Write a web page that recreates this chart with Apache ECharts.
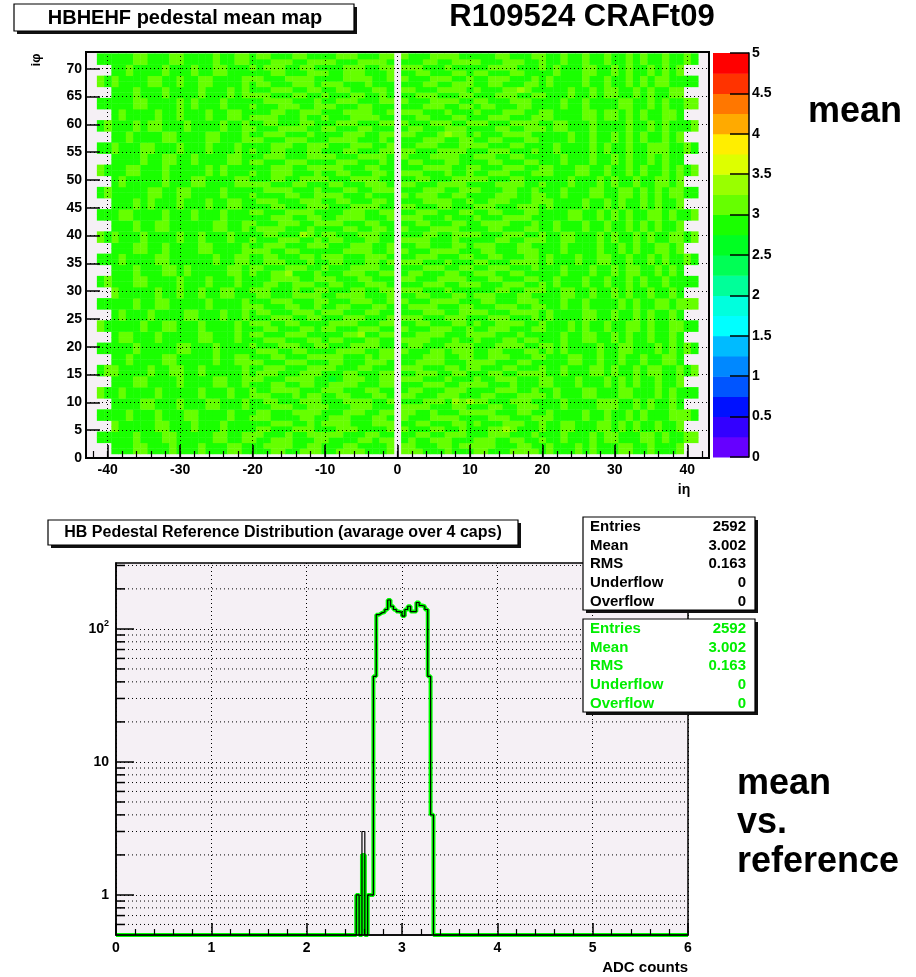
<!DOCTYPE html>
<html><head><meta charset="utf-8">
<script src="https://cdn.jsdelivr.net/npm/echarts@6/dist/echarts.min.js"></script>
<style>html,body{margin:0;padding:0;background:#fff}#c{width:916px;height:977px}</style>
</head><body><div id="c"></div>
<script>
// ================= DATA =================
const mapTitle = 'HBHEHF pedestal mean map';
const runTitle = 'R109524 CRAFt09';
const histTitle = 'HB Pedestal Reference Distribution (avarage over 4 caps)';
const mapXTicks = [-40, -30, -20, -10, 0, 10, 20, 30, 40];
const mapXMinorTicks = [-42,-40,-38,-36,-34,-32,-30,-28,-26,-24,-22,-20,-18,-16,-14,-12,-10,-8,-6,-4,-2,0,2,4,6,8,10,12,14,16,18,20,22,24,26,28,30,32,34,36,38,40,42];
const mapYTicks = [0,5,10,15,20,25,30,35,40,45,50,55,60,65,70];
const colorLevels = [0,0.25,0.5,0.75,1,1.25,1.5,1.75,2,2.25,2.5,2.75,3,3.25,3.5,3.75,4,4.25,4.5,4.75,5];
const paletteColors = ['#6600ff','#3300ff','#0011ff','#0055ff','#0088ff','#00bbff','#00ffff','#00ffdd','#00ff99','#00ff55',
                       '#00ff22','#1aff00','#66ff00','#99ff00','#ddff00','#ffee00','#ffaa00','#ff7700','#ff3300','#ff0000'];
const cellCodeValues = { d: 2.68, g: 2.88, l: 3.1, y: 3.32 };
const fineEtas = [-20,-19,-18,-17,-16,-15,-14,-13,-12,-11,-10,-9,-8,-7,-6,-5,-4,-3,-2,-1,1,2,3,4,5,6,7,8,9,10,11,12,13,14,15,16,17,18,19,20];
const coarseEtas = [-39,-38,-37,-36,-35,-34,-33,-32,-31,-30,-29,-28,-27,-26,-25,-24,-23,-22,-21,21,22,23,24,25,26,27,28,29,30,31,32,33,34,35,36,37,38,39];
const hfEtas = [-41, -40, 40, 41];
// fine rows: iphi 1..72 (bottom to top), ieta -20..-1, 1..20
const fineRows = [
"gggllgglll ggllllgggl lllggglggg llgggllllg",
"ggllllggll gggllggggl llgggllgll lllgggllgg",
"lgglllgggl lggggllgll glgglllggg lllggllggl",
"llggglggll lllgggllgg ggllgglllg gglllggglg",
"gllggglllg gglllggggl lgggllgglg ggllylgggl",
"ggglllgglg llllggglll ggllgggllg lggglllggl",
"lllggggllg glllgggllg lgggllllgg gglllgggll",
"gllgggllll ggglllggll llgglgggll lllgggllgg",
"ggglllggll lggglllggg llllgggllg ggllgglllg",
"ggllggglll gggllllggl ggglllgyly llggglllgg",
"lllggglgll ggllgggllg llggglllgg gllgggllll",
"lggllllggg lllgggllgg gllggglllg ggglllgglg",
"gggllggllg gllllgggll ggglllggll llggglgggl",
"llgggllllg gdglllggll lllggglggg lgglllgggl",
"glllggglll gggllgggll gglllggllg ggllggllll",
"gglllgggll llgggllggg lllgggllgl lgggllgggl",
"llggglllgg gllggglllg ggllllgggl lllgggllgg",
"gggllgggll lllggglgll ggglllggll gglllgggll",
"glllggllgg ggllllggll lgggllglll ggllgggllg",
"lggglllggl lgggllllgg gllgggllll gggllllggl",
"gglllgggll gllgggllgg llllggglgg lgggllgllg",
"llggglllgg gggllyggll ggllllgggl lllggglggg",
"ggllgggllg llggglllgg lggglllggl gglllgggll",
"lllggllggg gllllgggll ggllgggllg lggllllggl",
"ggglllggll ggglllgggl lllggglllg gglllggglg",
"gllggglllg lllgggllgg ggglllggll llgggllllg",
"llgggllggl ggllgggllg gllllgggll ggglllggll",
"ggglllgggl lggglllggl lgggllllgg gllggglllg",
"gllgggllll ggllllgggl ggllgggllg lllgggllgg",
"lllggglggl lgggllggll lllggglggg gggllgglll",
"ggllgglllg gllggglllg ggglllggll lggglllggl",
"gggllllggl llgggllggg llgggllllg ggllgggllg",
"lggllygggl ggglllggll gllgggllgg lllggllggg",
"llggglllgg lgggllllgg ggglllggll gglllggglg",
"gglllggglg gllgggllgl lllggglggg llgggllllg",
"ggllgggllg lllggglllg gglllgggll ggllgggllg",
"lllggllggg gggllllggl lgggllllgg gllggglllg",
"gglllgggll lggglllggl ggllgggllg lllgggllgg",
"lggglllggl gllgggllgg llllggglgg gggllgglll",
"ggllgggylg llggglllgg gggllgglll lggglllggl",
"gllllggglg gggllggllg lgggllllgg ggllgggllg",
"lggglllggl lllgggllgg ggllgggllg gllllggglg",
"ggglllggll ggllllgggl lllggglggg lgggllllgg",
"llgggllllg ggglllggll gglllgggll ggllgggllg",
"gggllgggll lgggllllgg llgggllggg lllggglllg",
"glllggglll ggllgggllg gggllllggl gglllgggll",
"lggggllggl lllggglggg lglllggllg ggglllggll",
"ggllllgggl gggllgglll ggglllggll lgggllgglg",
"lllgggllgg gllggglllg llgggllllg gggllllggl",
"gggllgglll lgggllllgg ggllggglll llgggllggg",
"lgglllgggl ggllgggllg lllggglggl gglllgggll",
"ggglllggll lllgggllgg gggllllggl lggglllggl",
"llggglllgg gglllggglg gllgggllgg ggllgggllg",
"gglllgggll llgggllllg lgggllllgg lllggllggg",
"lggllgggll gggllgggll llgggllllg gglllggglg",
"ggglllggll lggglllggl gglllgggll llgggllggg",
"llggglllgg gllllggglg ggglllggll ggllgggllg",
"gglllggglg ggglllggll llggglyllg lgggllllgg",
"lgggllllgg llgggllggg gllggglllg gggllgglll",
"ggllgggllg gglllgggll lggglllggl llgggllllg",
"llllggglgg lgggllllgg ggllgggllg gglllgggll",
"gggllgglll gggllllggl lllggglggg lggglllggl",
"lggglllggl llgggllggg ggglllggll gllgggllgg",
"ggllllgggl gglllgggll lgggllllgg llggglllgg",
"lllgggllgg lgggllgglg gglllgggll ggglllggll",
"ggglllggll ggllgggllg llgggllllg lgggllylgg",
"gllggglllg lllggglggg gggllgglll ggllgggllg",
"llgggllllg gggllllggl lggglllggl gglllggglg",
"gggllgggll lgglllgggl ggllgggllg llgggllggg",
"lglllggllg ggglllggll lllggglggg ggllllgggl",
"ggglllggll llgggllllg gggllgglll lggglllggl",
"gllgggllgg gglllgggll lgggllllgg gggllgggll"
];
// coarse rows: iphi pairs (1-2, 3-4, ...), ieta -39..-21, 21..39
const coarseRows = [
"gggllggglg gglgggllg lggglglgg gllgglgggl",
"ggglgggllg ggggllggl gglggglgl lgggllglgg",
"lgggggllgg glggglggg ggllgggll glglgglggl",
"gglggglggg llgggglgg lgggglggl gglglgggll",
"ggggllgggl gggllgggl gglggggll lgglglgglg",
"glgggglggg gglggglgg glgggllgg gllggglglg",
"gggllggggl ggggllggl lggglgggl glglgglggl",
"lgggglggll gglgggggl gglgggllg lgglgllggl",
"gglggggllg gggglggll gggllgglg glgglggllg",
"ggglgggggl lggglgggg lglgggglg gllggglglg",
"gllggglggg ggllggglg gglggllgg lglgglgglg",
"gggglggllg gglgggglg ggglglggl ggllglggll",
"glggglgggg llggglggl lggggllgg lgglglgglg",
"ggglggllgg ggglggggl gglgglggg glglggllgl",
"lggggglggl gglggllgg ggllgglgg lglgglgglg",
"gggllggggl ggglggglg glggglggl gglglgglgg",
"ggglgggllg lgggggllg gglggglgg lgllgglglg",
"glggggllgg gggglggll lggglggll gglgglglgg",
"gggllgglgg ggllggggl gglgggglg glglggllgl",
"lggglggggl gglggglgg ggllggglg lgglglggll",
"ggglggllgg ggggllggl glggglggl gglglglggl",
"gllgggglgg glggglggg gggllgglg lglggllglg",
"ggglglgggl ggglggllg lgggglggl glgglglggl",
"gggggllggl lgggglggg gglgggllg gllglglgll",
"glggggglgg gllggggll ggglggglg lgglggllgl",
"ggllggglgg ggglglggg lgggllggl gglglgglgl",
"gggglggllg glggggllg gglggglgg lglgglglgg",
"lgggllgggl ggglggglg glgggglgl gglgglllgg",
"gglggggllg gggllgggl ggglgglgg lglglgglgl",
"ggglgllggg lgggglggl gllggglgg gglgglglgg",
"glgggglggl ggglggllg lggggllgl lglglggllg",
"gggllggggl glggglggg gglgglggg gllgglglgg",
"ggglggglgg gglggglgl ggglgglgl lgglglggll",
"lggggllggl ggllggggl lgggglggl gglglgllgg",
"gglgggglgg glggllggg glgggllgg lglgglglgl",
"gggllgggll gggglggll gglgglggl gglglgglgg"
];
// HF rows: iphi 3-4, 7-8, ..., 71-72 ; ieta -41,-40,40,41
const hfRows = ["ggll","gglg","lggg","glgl","gglg","lggg","ggll","glgg","gglg","lggl","gggl","glgg","lggl","gglg","glgl","ggll","lggg","gglg"];

// histogram (bin left edges, counts)
const histEdges = [0, 2.52, 2.55, 2.58, 2.61, 2.64, 2.67, 2.70, 2.73, 2.76, 2.79, 2.82, 2.85, 2.88, 2.91, 2.94, 2.97, 3.00, 3.03, 3.06, 3.09, 3.12, 3.15, 3.18, 3.21, 3.24, 3.27, 3.30, 3.33, 6];
const meanCounts = [0, 1, 0, 2, 0, 1, 1, 44, 128, 132, 134, 140, 165, 148, 140, 135, 133, 125, 140, 148, 135, 135, 158, 150, 148, 140, 44, 4, 0, 0];
const refCounts  = [0, 1, 0, 3, 0, 1, 1, 44, 128, 132, 134, 140, 165, 148, 140, 135, 133, 125, 140, 148, 135, 135, 158, 150, 148, 140, 44, 4, 0, 0];
const histYTicks = [1, 10, 100];
const logMinorTicks = [0.6, 0.7, 0.8, 0.9, 2, 3, 4, 5, 6, 7, 8, 9, 20, 30, 40, 50, 60, 70, 80, 90, 200, 300];
const statLabels = ['Entries', 'Mean', 'RMS', 'Underflow', 'Overflow'];
const refStats = ['2592', '3.002', '0.163', '0', '0'];
const meanStats = ['2592', '3.002', '0.163', '0', '0'];

// ================= BUILD =================
const FONT = "'Liberation Sans', Arial, Helvetica, sans-serif";
const HIST_YMIN = 0.5, HIST_YMAX = 313;
const heatData = [];
function pushRow(str, etas, iphis) {
  const s = str.replace(/\s/g, '');
  for (let j = 0; j < etas.length && j < s.length; j++) {
    const v = cellCodeValues[s[j]];
    if (v === undefined) continue;
    iphis.forEach(p => heatData.push([etas[j], p, v]));
  }
}
fineRows.forEach((r, i) => pushRow(r, fineEtas, [i + 1]));
coarseRows.forEach((r, i) => pushRow(r, coarseEtas, [2 * i + 1, 2 * i + 2]));
hfRows.forEach((r, i) => pushRow(r, hfEtas, [4 * i + 3, 4 * i + 4]));

const bandData = colorLevels.slice(0, -1).map((lo, i) => [lo, colorLevels[i + 1], (lo + colorLevels[i + 1]) / 2]);
const pieces = colorLevels.slice(0, -1).map((lo, i) => ({ gte: lo, lt: colorLevels[i + 1], color: paletteColors[i] }));

const lbl = { fontFamily: FONT, fontWeight: 'bold', fontSize: 14, color: '#000' };
const dotted = { type: [1, 3], color: '#000', width: 1 };

function boxWithShadow(x, y, w, h) {
  return [
    { type: 'rect', shape: { x: x + 3, y: y + 3, width: w, height: h }, style: { fill: '#111' }, z: 50 },
    { type: 'rect', shape: { x: x, y: y, width: w, height: h }, style: { fill: '#fff', stroke: '#000', lineWidth: 1.2 }, z: 51 }
  ];
}
function statsBox(y0, values, color) {
  const els = boxWithShadow(583, y0, 172, 93);
  statLabels.forEach((t, i) => {
    const yy = y0 + 10 + i * 18.6;
    els.push({ type: 'text', x: 590, y: yy, z: 52, style: { text: t, font: "bold 15px " + FONT, fill: color, align: 'left', verticalAlign: 'middle' } });
    els.push({ type: 'text', x: 746, y: yy, z: 52, style: { text: values[i], font: "bold 15px " + FONT, fill: color, align: 'right', verticalAlign: 'middle' } });
  });
  return els;
}

const graphics = [].concat(
  boxWithShadow(14, 4, 340, 27),
  [{ type: 'text', x: 185, y: 18, z: 52, style: { text: mapTitle, font: "bold 20px " + FONT, fill: '#000', align: 'center', verticalAlign: 'middle' } },
   { type: 'text', x: 582, y: 17, z: 52, style: { text: runTitle, font: "bold 31px " + FONT, fill: '#000', align: 'center', verticalAlign: 'middle' } },
   { type: 'text', x: 36, y: 60, rotation: Math.PI / 2, z: 52, style: { text: 'iφ', font: "bold 13px " + FONT, fill: '#000', align: 'center', verticalAlign: 'middle' } },
   { type: 'text', x: 684, y: 490, z: 52, style: { text: 'iη', font: "bold 14px " + FONT, fill: '#000', align: 'center', verticalAlign: 'middle' } },
   { type: 'text', x: 808, y: 112, z: 52, style: { text: 'mean', font: "bold 36px " + FONT, fill: '#000', align: 'left', verticalAlign: 'middle' } },
   { type: 'text', x: 737, y: 765, z: 52, style: { text: 'mean\nvs.\nreference', font: "bold 36px " + FONT, lineHeight: 39, fill: '#000', align: 'left', verticalAlign: 'top' } },
   { type: 'text', x: 688, y: 968, z: 52, style: { text: 'ADC counts', font: "bold 15px " + FONT, fill: '#000', align: 'right', verticalAlign: 'middle' } }
  ],
  boxWithShadow(48, 520, 470, 25),
  [{ type: 'text', x: 283, y: 533, z: 52, style: { text: histTitle, font: "bold 16px " + FONT, fill: '#000', align: 'center', verticalAlign: 'middle' } }],
  statsBox(517, refStats, '#000'),
  statsBox(619, meanStats, '#00ee00')
);

const option = {
  animation: false,
  backgroundColor: '#ffffff',
  grid: [
    { left: 86, top: 52, width: 623, height: 406, show: true, backgroundColor: '#f5f0f5', borderColor: '#000', borderWidth: 2, outerBoundsMode: 'none' },
    { left: 713, top: 53, width: 36, height: 404, show: false, outerBoundsMode: 'none' },
    { left: 116, top: 563, width: 572, height: 372, show: true, backgroundColor: '#f5f0f5', borderColor: '#000', borderWidth: 1.5, outerBoundsMode: 'none' }
  ],
  xAxis: [
    { gridIndex: 0, type: 'value', min: -43, max: 43, position: 'bottom', z: 5,
      axisLine: { show: true, onZero: false, lineStyle: { color: '#000', width: 1.5 } },
      axisTick: { show: true, inside: true, length: 13, customValues: mapXTicks, lineStyle: { color: '#000', width: 1.5 } },
      axisLabel: Object.assign({ customValues: mapXTicks, margin: 5 }, lbl),
      splitLine: { show: true, lineStyle: dotted } },
    { gridIndex: 0, type: 'value', min: -43, max: 43, position: 'bottom', z: 5,
      axisLine: { show: false }, axisLabel: { show: false }, splitLine: { show: false },
      axisTick: { show: true, inside: true, length: 7, customValues: mapXMinorTicks, lineStyle: { color: '#000', width: 1.2 } } },
    { gridIndex: 1, type: 'value', min: 0, max: 1, show: false },
    { gridIndex: 2, type: 'value', min: 0, max: 6, interval: 1, position: 'bottom', z: 5,
      axisLine: { show: true, onZero: false, lineStyle: { color: '#000', width: 1.5 } },
      axisTick: { show: true, inside: true, length: 12, lineStyle: { color: '#000', width: 1.5 } },
      minorTick: { show: true, splitNumber: 5, length: 6, lineStyle: { color: '#000', width: 1.2 } },
      axisLabel: Object.assign({ margin: 6 }, lbl),
      splitLine: { show: true, lineStyle: dotted } }
  ],
  yAxis: [
    { gridIndex: 0, type: 'value', min: 0, max: 73, z: 5,
      axisLine: { show: true, onZero: false, lineStyle: { color: '#000', width: 1.5 } },
      axisTick: { show: true, inside: true, length: 14, customValues: mapYTicks, lineStyle: { color: '#000', width: 1.5 } },
      axisLabel: Object.assign({ customValues: mapYTicks, margin: 4 }, lbl),
      splitLine: { show: true, lineStyle: dotted } },
    { gridIndex: 1, type: 'value', min: 0, max: 5, interval: 0.5, position: 'right', z: 5,
      axisLine: { show: true, onZero: false, lineStyle: { color: '#000', width: 1.5 } },
      axisTick: { show: true, inside: true, length: 19, lineStyle: { color: '#000', width: 1.5 } },
      axisLabel: Object.assign({ margin: 3 }, lbl),
      splitLine: { show: false } },
    { gridIndex: 2, type: 'log', logBase: 10, min: HIST_YMIN, max: HIST_YMAX, z: 5,
      axisLine: { show: true, onZero: false, lineStyle: { color: '#000', width: 1.5 } },
      axisTick: { show: true, inside: true, length: 18, customValues: histYTicks, lineStyle: { color: '#000', width: 1.5 } },
      axisLabel: Object.assign({ customValues: histYTicks, margin: 7, lineHeight: 20,
        formatter: v => (Math.round(v) === 100 ? '10{sup|2}' : String(Math.round(v))),
        rich: { sup: { fontFamily: FONT, fontWeight: 'bold', fontSize: 9, lineHeight: 9, verticalAlign: 'top', color: '#000' } } }, lbl),
      splitLine: { show: true, lineStyle: dotted } }
  ],
  visualMap: { type: 'piecewise', show: false, dimension: 2, seriesIndex: [0, 1], pieces: pieces },
  series: [
    { type: 'custom', name: 'map', xAxisIndex: 0, yAxisIndex: 0, data: heatData, progressive: 0, silent: true, z: 2,
      encode: { x: 0, y: 1 },
      renderItem: (params, api) => {
        const x = api.value(0), y = api.value(1);
        const p0 = api.coord([x - 0.5, y - 0.25]);
        const p1 = api.coord([x + 0.5, y + 0.75]);
        return { type: 'rect', shape: { x: p0[0], y: p1[1], width: p1[0] - p0[0] + 0.4, height: p0[1] - p1[1] + 0.4 },
                 style: { fill: api.visual('color') } };
      } },
    { type: 'custom', name: 'palette', xAxisIndex: 2, yAxisIndex: 1, data: bandData, silent: true, z: 2,
      encode: { y: [0, 1] },
      renderItem: (params, api) => {
        const p0 = api.coord([0, api.value(0)]);
        const p1 = api.coord([1, api.value(1)]);
        return { type: 'rect', shape: { x: p0[0], y: p1[1], width: p1[0] - p0[0], height: p0[1] - p1[1] + 0.5 },
                 style: { fill: api.visual('color') } };
      } },
    { type: 'custom', name: 'logMinor', xAxisIndex: 3, yAxisIndex: 2, data: logMinorTicks.map(v => [0, v]), silent: true, z: 1,
      encode: { x: 0, y: 1 },
      renderItem: (params, api) => {
        const cs = params.coordSys;
        const y = api.coord([0, api.value(1)])[1];
        return { type: 'group', children: [
          { type: 'line', shape: { x1: cs.x, y1: y, x2: cs.x + cs.width, y2: y }, style: { stroke: '#000', lineWidth: 1, lineDash: [1, 3] } },
          { type: 'line', shape: { x1: cs.x, y1: y, x2: cs.x + 9, y2: y }, style: { stroke: '#000', lineWidth: 1.5 } }
        ] };
      } },
    { type: 'line', name: 'mean', xAxisIndex: 3, yAxisIndex: 2, step: 'end', symbol: 'none', clip: false, z: 3,
      data: histEdges.map((x, i) => [x, Math.max(meanCounts[i], HIST_YMIN)]),
      lineStyle: { color: '#00ff00', width: 4 } },
    { type: 'line', name: 'reference', xAxisIndex: 3, yAxisIndex: 2, step: 'end', symbol: 'none', clip: false, z: 4,
      data: histEdges.map((x, i) => [x, Math.max(refCounts[i], HIST_YMIN)]),
      lineStyle: { color: '#000', width: 1.2 } }
  ],
  graphic: graphics
};

const chart = echarts.init(document.getElementById('c'), null, { renderer: 'canvas' });
chart.setOption(option);
</script>
</body></html>
